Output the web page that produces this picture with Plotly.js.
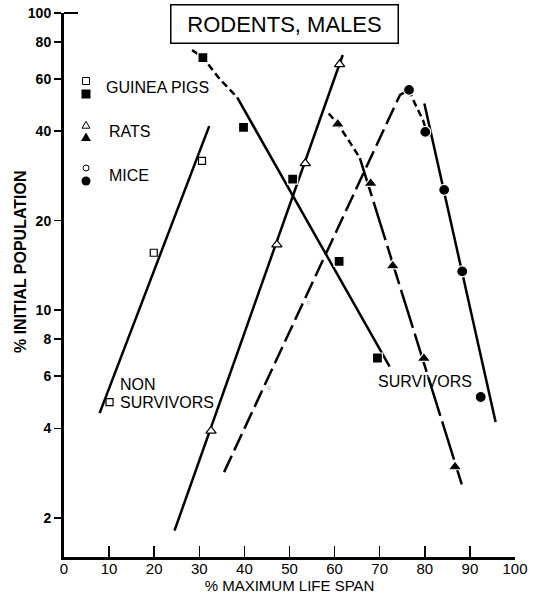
<!DOCTYPE html>
<html>
<head>
<meta charset="utf-8">
<script src="https://cdn.plot.ly/plotly-3.0.1.min.js"></script>
<style>html,body{margin:0;padding:0;background:#fff;}#chart{width:533px;height:604px;}</style>
</head>
<body>
<div id="chart"></div>
<script>
// ---- Data ----
// Guinea pigs
const gpNonX = [10.1, 19.9, 30.6];
const gpNonY = [4.9, 15.6, 31.8];
const gpNonLineX = [7.9, 32.2];
const gpNonLineY = [4.5, 41.6];
const gpSurvX = [30.8, 39.8, 50.7, 61.0, 69.5];
const gpSurvY = [70.8, 41.2, 27.6, 14.6, 6.9];
const gpSurvCurveX = [28.4, 30.8, 34.5, 38.4];
const gpSurvCurveY = [75, 70.8, 60, 52];
const gpSurvLineX = [38.4, 72.2];
const gpSurvLineY = [52, 6.45];
// Rats
const ratNonX = [32.6, 47.2, 53.5, 61.1];
const ratNonY = [3.92, 16.6, 31.2, 67.2];
const ratNonLineX = [24.5, 61.8];
const ratNonLineY = [1.81, 72.2];
const ratSurvX = [60.7, 68.0, 72.9, 79.8, 86.7];
const ratSurvY = [42.3, 26.7, 14.1, 6.88, 2.97];
const ratSurvCurveX = [58.7, 60.7, 63.0, 65.6];
const ratSurvCurveY = [45.9, 42.3, 37.5, 32.5];
const ratSurvLineX = [65.6, 88.2];
const ratSurvLineY = [32.5, 2.59];
// Mice
const miceNonX = [45.5, 54.2];
const miceNonY = [5.46, 10.6];
const miceNonLineX = [35.5, 74.5, 76.5];
const miceNonLineY = [2.85, 53, 55.1];
const miceSurvX = [76.5, 80.1, 84.3, 88.3, 92.4];
const miceSurvY = [55.1, 39.8, 25.4, 13.5, 5.1];
const miceSurvCurveX = [76.5, 77.8, 79.6, 81.0];
const miceSurvCurveY = [55.1, 49.6, 43.6, 37.4];
const miceSurvLineX = [79.9, 95.7];
const miceSurvLineY = [49.6, 4.2];

const xTicks = [0, 10, 20, 30, 40, 50, 60, 70, 80, 90, 100];
const yTicks = [2, 4, 6, 8, 10, 20, 40, 60, 80, 100];

// ---- Styling helpers ----
const FONT = '"Liberation Sans", Arial, Helvetica, sans-serif';
const LW = 2.5;
function line(x, y, dash) {
  return {x: x, y: y, mode: 'lines', type: 'scatter', hoverinfo: 'skip',
          line: {color: '#000', width: LW, dash: dash || 'solid'}, showlegend: false};
}
function pts(x, y, symbol, size, open) {
  return {x: x, y: y, mode: 'markers', type: 'scatter', hoverinfo: 'skip', showlegend: false,
          marker: {symbol: symbol, size: size,
                   color: open ? '#fff' : '#000',
                   line: {color: open ? '#000' : '#fff', width: open ? 1.2 : 1.2}}};
}

const traces = [
  line(gpNonLineX, gpNonLineY),
  line(gpSurvCurveX, gpSurvCurveY, '7px,4px'),
  line(gpSurvLineX, gpSurvLineY),
  line(ratNonLineX, ratNonLineY),
  line(ratSurvCurveX, ratSurvCurveY, '7px,4px'),
  line(ratSurvLineX, ratSurvLineY, '40px,6px'),
  line(miceNonLineX, miceNonLineY, '18px,6px'),
  line(miceSurvCurveX, miceSurvCurveY, '7px,4px'),
  line(miceSurvLineX, miceSurvLineY),
  pts(gpNonX, gpNonY, 'square', 7, true),
  pts(gpSurvX, gpSurvY, 'square', 10, false),
  pts(ratNonX, ratNonY, 'triangle-up', 9, true),
  pts(ratSurvX, ratSurvY, 'triangle-up', 12, false),
  {x: miceNonX, y: miceNonY, mode: 'markers', type: 'scatter', hoverinfo: 'skip', showlegend: false,
   marker: {symbol: 'circle-open', size: 3, color: '#999', line: {width: 0.6}}},
  pts(miceSurvX, miceSurvY, 'circle', 11, false)
];

// plot area in pixels: x 64..515, y 13..557
const PL = 64, PR = 515, PT = 13, PB = 557;
const px = v => (v - PL) / (PR - PL);
const py = v => (PB - v) / (PB - PT);

function txt(text, x, y, opts) {
  return Object.assign({text: text, xref: 'paper', yref: 'paper', x: px(x), y: py(y),
    showarrow: false, xanchor: 'left', yanchor: 'middle',
    font: {family: FONT, size: 16, color: '#000'}}, opts || {});
}

// legend icons as shapes (pixel sized, anchored in paper coords)
function icon(kind, filled, cx, cy, s) {
  const h = s / 2;
  const base = {xref: 'paper', yref: 'paper', xsizemode: 'pixel', ysizemode: 'pixel',
    xanchor: px(cx), yanchor: py(cy),
    line: {color: '#000', width: filled ? 0 : 1}, fillcolor: filled ? '#000' : '#fff'};
  if (kind === 'square') return Object.assign(base, {type: 'rect', x0: -h, x1: h, y0: -h, y1: h});
  if (kind === 'circle') return Object.assign(base, {type: 'circle', x0: -h, x1: h, y0: -h, y1: h});
  return Object.assign(base, {type: 'path', path: `M${-h},${-h*0.8} L${h},${-h*0.8} L0,${h*0.9} Z`});
}

const layout = {
  width: 533, height: 604,
  margin: {l: PL, r: 533 - PR, t: PT, b: 604 - PB},
  paper_bgcolor: '#fff', plot_bgcolor: '#fff',
  font: {family: FONT, color: '#000'},
  xaxis: {
    range: [0, 100], tickvals: xTicks, ticktext: xTicks.map(String),
    ticks: 'inside', ticklen: 11, tickwidth: 1.5, tickcolor: '#000',
    showline: true, linewidth: 3, linecolor: '#000',
    showgrid: false, zeroline: false, ticklabelstandoff: -4,
    tickfont: {family: FONT, size: 15, color: '#000'},
    title: {text: '% MAXIMUM LIFE SPAN', font: {family: FONT, size: 15, color: '#000'}, standoff: 2}
  },
  yaxis: {
    type: 'log', range: [Math.log10(1.476), 2],
    tickvals: yTicks, ticktext: yTicks.map(String),
    ticks: 'outside', ticklen: 7, tickwidth: 1.5, tickcolor: '#000',
    showline: true, linewidth: 3, linecolor: '#000',
    showgrid: false, zeroline: false,
    tickfont: {family: FONT, size: 14, color: '#000', weight: 'bold'}
  },
  shapes: [
    {type: 'line', xref: 'paper', yref: 'paper', x0: 0, x1: px(78), y0: 1, y1: 1, line: {color: '#000', width: 2}},
    icon('square', false, 86, 81, 7),
    icon('square', true, 86, 94, 9),
    icon('tri', false, 86, 125, 8),
    icon('tri', true, 86, 137, 10),
    icon('circle', false, 86, 168, 6),
    icon('circle', true, 86, 181, 9)
  ],
  annotations: [
    txt('RODENTS, MALES', 284.5, 24, {xanchor: 'center', font: {family: FONT, size: 22, color: '#000'},
        bordercolor: '#000', borderwidth: 1.5, borderpad: 3, bgcolor: '#fff', width: 220, height: 31}),
    txt('GUINEA PIGS', 104, 88),
    txt('RATS', 107, 131),
    txt('MICE', 107, 175),
    txt('NON', 118, 384),
    txt('SURVIVORS', 118, 402),
    txt('SURVIVORS', 376, 382),
    txt('% INITIAL POPULATION', 20, 262, {xanchor: 'center', textangle: -90,
        font: {family: FONT, size: 16, color: '#000', weight: 'bold'}})
  ]
};

Plotly.newPlot('chart', traces, layout, {staticPlot: true, displayModeBar: false});
</script>
</body>
</html>
